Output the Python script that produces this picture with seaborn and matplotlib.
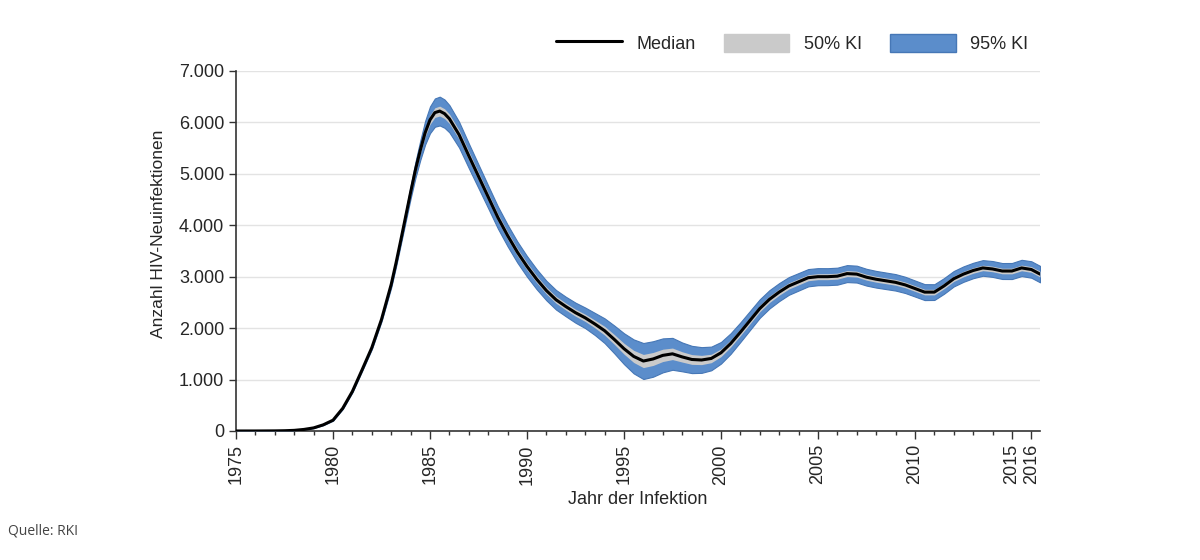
import numpy as np
import pandas as pd
import matplotlib
matplotlib.use("Agg")
import matplotlib.pyplot as plt
import matplotlib.ticker as mticker
from matplotlib.lines import Line2D
from matplotlib.patches import Patch
import seaborn as sns

# Werte (Jahr, Median, halbe Breite der Konfidenzbaender)
years = [1975.0, 1976.0, 1977.0, 1977.5, 1978.0, 1978.5, 1979.0, 1979.5,
         1980.0, 1980.5, 1981.0, 1981.5, 1982.0, 1982.5, 1983.0, 1983.25,
         1983.5, 1983.75, 1984.0, 1984.25, 1984.5, 1984.75, 1985.0, 1985.25,
         1985.5, 1985.75, 1986.0, 1986.5, 1987.0, 1987.5,
         1988.0, 1988.5, 1989.0, 1989.5, 1990.0, 1990.5, 1991.0, 1991.5,
         1992.0, 1992.5, 1993.0, 1993.5, 1994.0, 1994.5, 1995.0, 1995.5,
         1996.0, 1996.5, 1997.0, 1997.5, 1998.0, 1998.5, 1999.0, 1999.5,
         2000.0, 2000.5, 2001.0, 2001.5, 2002.0, 2002.5, 2003.0, 2003.5,
         2004.0, 2004.5, 2005.0, 2005.5, 2006.0, 2006.5, 2007.0, 2007.5,
         2008.0, 2008.5, 2009.0, 2009.5, 2010.0, 2010.5, 2011.0, 2011.5,
         2012.0, 2012.5, 2013.0, 2013.5, 2014.0, 2014.5, 2015.0, 2015.5,
         2016.0, 2016.45]
median = [0, 0, 2, 5, 12, 30, 60, 120,
          210, 440, 770, 1190, 1620, 2170, 2850, 3270,
          3720, 4180, 4640, 5080, 5460, 5800, 6050, 6190,
          6220, 6170, 6070, 5760, 5350, 4950,
          4550, 4150, 3800, 3480, 3200, 2950, 2730, 2550,
          2420, 2300, 2200, 2080, 1950, 1780, 1600, 1450,
          1360, 1400, 1470, 1500, 1440, 1390, 1380, 1410,
          1520, 1700, 1920, 2150, 2380, 2560, 2700, 2820,
          2900, 2980, 3000, 3000, 3010, 3060, 3050, 2990,
          2950, 2920, 2890, 2840, 2770, 2700, 2700, 2820,
          2960, 3050, 3120, 3170, 3150, 3110, 3110, 3170,
          3140, 3050]
half95 = [0, 0, 0, 0, 1, 2, 4, 6,
          10, 14, 18, 22, 30, 40, 60, 70,
          80, 100, 120, 155, 190, 230, 260, 275,
          280, 275, 265, 250, 240, 230,
          220, 215, 210, 205, 200, 195, 190, 190,
          190, 195, 200, 215, 240, 270, 300, 330,
          350, 345, 330, 310, 280, 265, 250, 230,
          210, 200, 190, 185, 180, 178, 175, 172,
          170, 168, 166, 165, 165, 165, 164, 163,
          162, 161, 160, 158, 156, 155, 153, 152,
          150, 150, 150, 152, 154, 155, 156, 158,
          160, 160]
half50 = [0, 0, 0, 0, 0, 1, 1, 2,
          3, 5, 6, 8, 10, 14, 20, 24,
          28, 35, 42, 54, 65, 78, 88, 94,
          96, 95, 92, 88, 85, 80,
          78, 75, 73, 72, 70, 68, 67, 67,
          67, 68, 70, 75, 85, 95, 105, 118,
          128, 126, 120, 112, 100, 95, 90, 82,
          75, 70, 66, 64, 62, 62, 61, 60,
          60, 59, 58, 58, 58, 58, 57, 57,
          57, 56, 56, 55, 55, 54, 54, 53,
          53, 53, 53, 53, 54, 54, 55, 55,
          56, 56]

df = pd.DataFrame({"Jahr": years, "Median": median,
                   "h95": half95, "h50": half50})

sns.set_theme(style="white")
plt.rcParams["font.family"] = ["Liberation Sans", "DejaVu Sans"]

fig = plt.figure(figsize=(12, 5.6), dpi=100)
ax = fig.add_axes([0.1967, 0.2304, 0.67, 0.6429])

blue = "#5b8dcb"
blue_edge = "#4677b6"
grey = "#cacaca"

ax.fill_between(df["Jahr"], df["Median"] - df["h95"], df["Median"] + df["h95"],
                color=blue, edgecolor=blue_edge, linewidth=0.8, zorder=2)
ax.fill_between(df["Jahr"], df["Median"] - df["h50"], df["Median"] + df["h50"],
                color=grey, linewidth=0, zorder=3)
sns.lineplot(data=df, x="Jahr", y="Median", color="black", linewidth=2.2,
             ax=ax, zorder=4)

ax.set_xlim(1975, 2016.45)
ax.set_ylim(0, 7000)
ax.yaxis.set_major_locator(mticker.MultipleLocator(1000))
ax.yaxis.set_major_formatter(mticker.FuncFormatter(
    lambda v, p: "0" if v == 0 else f"{int(v):,}".replace(",", ".")))
ax.set_xticks([1975, 1980, 1985, 1990, 1995, 2000, 2005, 2010, 2015, 2016])
ax.set_xticks(np.arange(1975, 2017, 1), minor=True)
ax.tick_params(axis="x", which="major", rotation=90, labelsize=13,
               length=6, width=1, color="#333333", direction="out", bottom=True)
ax.tick_params(axis="x", which="minor", length=3, width=1, color="#333333",
               direction="out", bottom=True)
ax.tick_params(axis="y", labelsize=13, length=5, width=1, color="#333333",
               direction="out", left=True)

ax.grid(axis="y", color="#e3e3e3", linewidth=1)
ax.set_axisbelow(True)
for s in ["top", "right"]:
    ax.spines[s].set_visible(False)
for s in ["left", "bottom"]:
    ax.spines[s].set_color("#333333")
    ax.spines[s].set_linewidth(1.2)

ax.set_xlabel("Jahr der Infektion", fontsize=13, labelpad=5)
ax.set_ylabel("Anzahl HIV-Neuinfektionen", fontsize=12.5)
ax.yaxis.set_label_coords(-0.087, 0.547)

handles = [Line2D([0], [0], color="black", linewidth=2.2),
           Patch(facecolor=grey, edgecolor=grey),
           Patch(facecolor=blue, edgecolor=blue_edge)]
fig.legend(handles, ["Median", "50% KI", "95% KI"], loc="center right",
           bbox_to_anchor=(0.87, 0.923), ncol=3, frameon=False, fontsize=13,
           handlelength=3.65, handleheight=1.15, columnspacing=1.55,
           handletextpad=0.78)

fig.text(0.007, 0.046, "Quelle: RKI", fontsize=10, color="#444444",
         family=["Open Sans", "DejaVu Sans"])

fig.savefig("out.png", dpi=100, facecolor="white")
